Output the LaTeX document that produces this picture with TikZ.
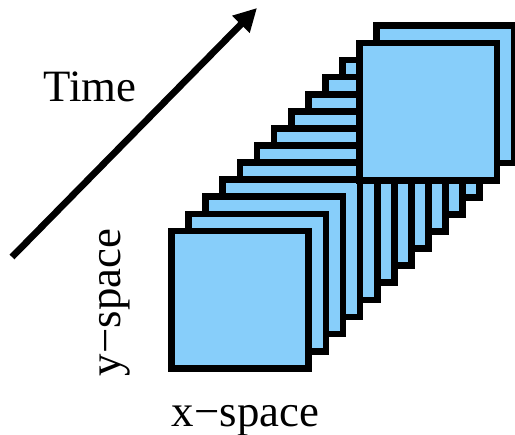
\documentclass[tikz,border=0pt]{standalone}
\usepackage{fontspec}
\setmainfont{Liberation Serif}
\usetikzlibrary{arrows.meta}
\definecolor{slicefill}{RGB}{135,206,250}

\begin{document}
\begin{tikzpicture}[x=0.02cm,y=0.02cm,
    slice/.style={draw=black,fill=slicefill,line width=0.134cm},
    label/.style={font=\fontsize{25.5}{30}\selectfont,inner sep=0pt,anchor=base}]
      \useasboundingbox (0,0) rectangle (515,435);

      % Stack of time slices (back one first, the second last one on top)
      \foreach \i in {12,10,9,8,7,6,5,4,3,2,1,0,11}
        \draw[slice] ({171.5+17.1*\i},{66.7+17.1*\i}) rectangle +(137.3,137.3);

      % Time axis
      \coordinate (tstart) at (12,178);
      \coordinate (tend) at (257,427);
      \draw[line width=0.135cm,-{Triangle[length=0.46cm,width=0.46cm]}] (tstart) -- (tend);

      \node[label] (time) at (90,333) {Time};
      \node[label] (xspace) at (245.5,8) {x−space};
      \node[label,rotate=90] (yspace) at (120,132.5) {y−space};
    \end{tikzpicture}
\end{document}
